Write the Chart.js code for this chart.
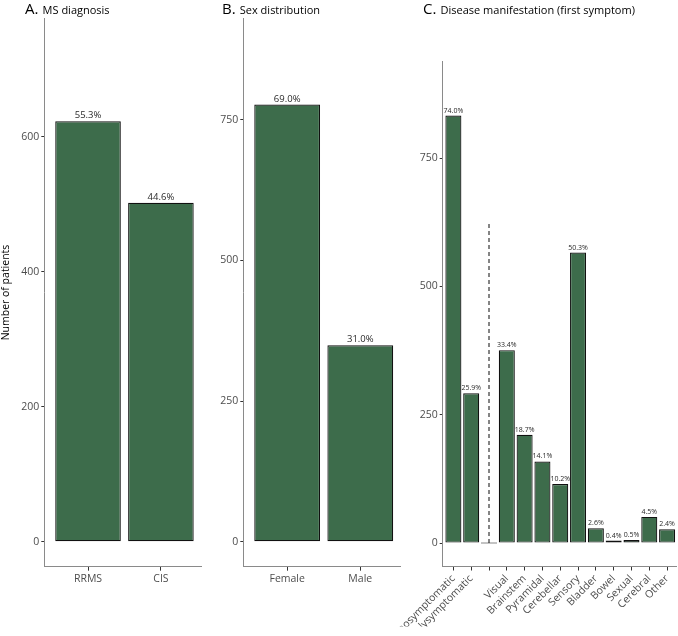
<!DOCTYPE html>
<html>
<head>
<meta charset="utf-8">
<script src="https://cdn.jsdelivr.net/npm/chart.js@4"></script>
<style>
    body { margin: 0; background: #fff; }
    #wrap { position: relative; width: 678px; height: 636px; font-family: "Open Sans", sans-serif; }
    canvas { position: absolute; left: 0; top: 0; }
    .ttl { position: absolute; top: -1px; line-height: 18px; white-space: nowrap; color: #000; }
    .ttl b { font-weight: normal; font-size: 15px; }
    .ttl span { font-size: 11px; }
</style>
</head>
<body>
<div id="wrap">
    <canvas id="chart-a" width="678" height="636"></canvas>
    <canvas id="chart-b" width="678" height="636"></canvas>
    <canvas id="chart-c" width="678" height="636"></canvas>
    <div class="ttl" style="left:25px"><b>A.</b> <span>MS diagnosis</span></div>
    <div class="ttl" style="left:222px"><b>B.</b> <span>Sex distribution</span></div>
    <div class="ttl" style="left:423px"><b>C.</b> <span>Disease manifestation (first symptom)</span></div>
</div>
<script>
// panel A - MS diagnosis
var diag_labels = ["RRMS", "CIS"];
var diag_counts = [623, 502];
var diag_pct = ["55.3%", "44.6%"];
var diag_ticks = [0, 200, 400, 600];

// panel B - sex
var sex_labels = ["Female", "Male"];
var sex_counts = [777, 349];
var sex_pct = ["69.0%", "31.0%"];
var sex_ticks = [0, 250, 500, 750];

// panel C - first symptom (blank slot = divider)
var symptom_labels = ["Monosymptomatic", "Polysymptomatic", "", "Visual", "Brainstem", "Pyramidal",
    "Cerebellar", "Sensory", "Bladder", "Bowel", "Sexual", "Cerebral", "Other"];
var symptom_counts = [833, 292, 0, 376, 211, 159, 115, 566, 29, 5, 6, 51, 27];
var symptom_pct = ["74.0%", "25.9%", "", "33.4%", "18.7%", "14.1%", "10.2%", "50.3%",
    "2.6%", "0.4%", "0.5%", "4.5%", "2.4%"];
var symptom_ticks = [0, 250, 500, 750];
var divider_top = 625;

var fill = "#3d6c4b";
var font = "Open Sans";

var barPct = {
    id: "barPct",
    afterDatasetsDraw: function(chart, args, o) {
        var ctx = chart.ctx;
        var meta = chart.getDatasetMeta(0);
        ctx.save();
        ctx.font = o.size + "px '" + font + "'";
        ctx.fillStyle = "#2a2a2a";
        ctx.textAlign = "center";
        ctx.textBaseline = "alphabetic";
        meta.data.forEach(function(bar, i) {
            if (o.labels[i]) ctx.fillText(o.labels[i], bar.x, bar.y - 3);
        });
        ctx.restore();
    }
};

function makePanel(id, labels, counts, pct, ticks, p) {
    var datasets = [{
        data: labels.map(function(l, i) { return { x: i + 1, y: counts[i] }; }),
        backgroundColor: fill,
        borderColor: "#111",
        borderWidth: 1.2,
        borderSkipped: false,
        barPercentage: 0.9,
        categoryPercentage: 1,
        minBarLength: 1,
    }].concat(p.extra || []);

    return new Chart(document.getElementById(id), {
        type: "bar",
        data: { datasets: datasets },
        options: {
            responsive: false,
            animation: false,
            events: [],
            layout: {
                padding: { left: p.left - p.yw, right: 678 - p.right, top: p.top, bottom: 636 - p.bottom - 60 },
            },
            plugins: {
                legend: { display: false },
                tooltip: { enabled: false },
                barPct: { labels: pct, size: p.pctSize },
            },
            scales: {
                x: {
                    type: "linear",
                    offset: false,
                    min: p.xmin,
                    max: p.xmax,
                    afterBuildTicks: function(s) { s.ticks = labels.map(function(l, i) { return { value: i + 1 }; }); },
                    afterFit: function(s) { s.height = 60; },
                    ticks: {
                        callback: function(v) { return labels[v - 1]; },
                        color: "#4d4d4d",
                        font: { family: font, size: 10.5 },
                        padding: 2,
                        autoSkip: false,
                        minRotation: p.rot,
                        maxRotation: p.rot,
                    },
                    grid: { offset: false, drawOnChartArea: false, tickLength: 4, color: "#333" },
                    border: { color: "#8a8a8a", width: 1 },
                },
                y: {
                    min: p.ymin,
                    max: p.ymax,
                    afterBuildTicks: function(s) { s.ticks = ticks.map(function(v) { return { value: v }; }); },
                    afterFit: function(s) { s.width = p.yw; },
                    ticks: { color: "#4d4d4d", font: { family: font, size: 10.5 }, padding: 2 },
                    grid: { drawOnChartArea: false, tickLength: 3, color: "#333" },
                    border: { color: "#8a8a8a", width: 1 },
                    title: {
                        display: !!p.yTitle,
                        text: p.yTitle || "",
                        color: "#000",
                        font: { family: font, size: 10.5 },
                        padding: 0,
                    },
                },
            },
        },
        plugins: [barPct],
    });
}

makePanel("chart-a", diag_labels, diag_counts, diag_pct, diag_ticks, {
    left: 44.3, right: 201, top: 18.3, bottom: 566.7, yw: 44.3,
    xmin: 0.4, xmax: 2.55, ymin: -37, ymax: 775.4, pctSize: 9.5, rot: 0,
    yTitle: "Number of patients",
});

makePanel("chart-b", sex_labels, sex_counts, sex_pct, sex_ticks, {
    left: 243.3, right: 400.5, top: 18.3, bottom: 566.7, yw: 40,
    xmin: 0.4, xmax: 2.55, ymin: -44.4, ymax: 930.2, pctSize: 9.5, rot: 0,
});

var divider_x = symptom_labels.indexOf("") + 1;
makePanel("chart-c", symptom_labels, symptom_counts, symptom_pct, symptom_ticks, {
    left: 442.7, right: 678, top: 61.7, bottom: 566.5, yw: 40,
    xmin: 0.4, xmax: 13.55, ymin: -45.6, ymax: 938, pctSize: 7, rot: 45,
    extra: [{
        type: "line",
        data: [{ x: divider_x, y: 0 }, { x: divider_x, y: divider_top }],
        borderColor: "#333",
        borderWidth: 1.2,
        borderDash: [4, 3],
        pointRadius: 0,
        fill: false,
    }],
});
</script>
</body>
</html>
